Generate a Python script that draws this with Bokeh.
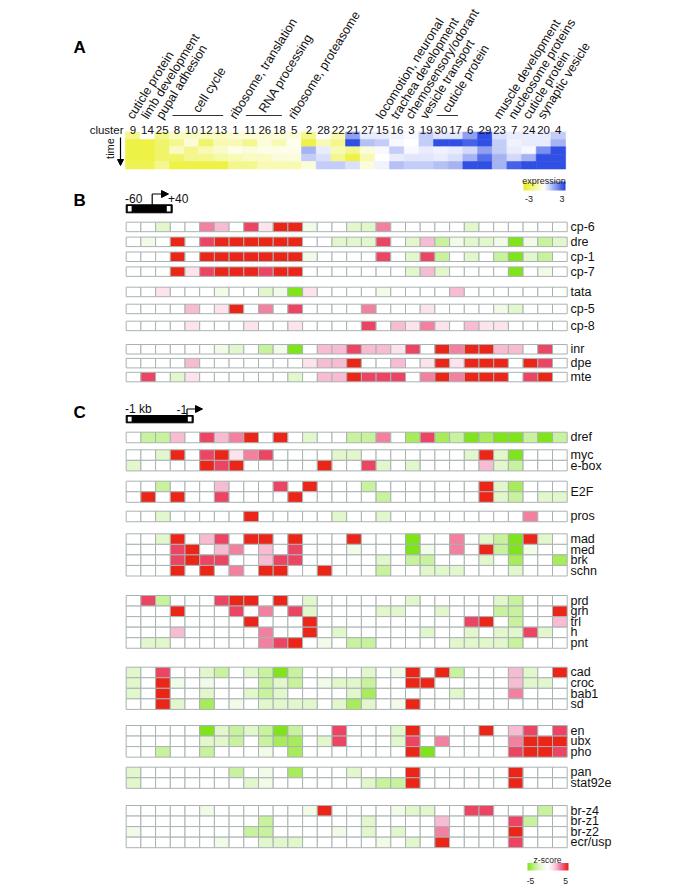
import numpy as np
from bokeh.plotting import figure
from bokeh.models import Range1d, ColumnDataSource, LinearColorMapper, Arrow, NormalHead
from bokeh.core.properties import value
from bokeh.embed import file_html
from bokeh.resources import INLINE

# ---------------- data ----------------
clusters = ["9", "14", "25", "8", "10", "12", "13", "1", "11", "26", "18", "5", "2", "28", "22",
            "21", "27", "15", "16", "3", "19", "30", "17", "6", "29", "23", "7", "24", "20", "4"]

# Panel A: expression per time point (rows, top -> bottom)
expr_t1 = [-1.5, 0, -1.5, -0.8, -0.8, -0.8, -0.8, -0.5, -0.5, -0.5, -0.5, -0.5, -1.5, 0, -1.0,
           1.5, 0.3, 0.3, 0.2, 0.1, 0.8, 0.4, 0.4, 1.5, 2.8, 0.5, 0.3, 0.3, 0.3, 0.8]
expr_t2 = [-2.5, -2.5, -2.0, -1.5, -0.5, -2.0, -1.0, -1.0, -1.5, -0.5, -1.0, -0.2, -2.5, -1.0, -1.5,
           2.8, 1.0, 0.8, 0.1, 0.0, 0.8, 2.8, 2.8, 2.5, 2.8, 0.8, 0.2, 0.3, 0.3, 1.2]
expr_t3 = [-2.5, -2.5, -2.0, -0.8, -1.5, -1.0, -0.7, -0.3, -0.5, -0.3, -0.3, -0.3, 1.2, 0.3, -1.0,
           -1.5, -0.5, 0.1, 0.8, 0.1, 0.3, 0.2, 0.3, 0.6, 1.5, 0.8, 0.3, 0.1, 1.8, 2.8]
expr_t4 = [-2.5, -2.5, -2.0, -2.0, -1.5, -1.5, -1.2, -1.0, -0.8, -0.8, -0.5, -0.5, 0.8, 0.5, -1.5,
           -2.5, -1.0, 0.0, 0.3, 0.4, 0.4, 0.3, 0.5, 1.2, 2.3, 1.2, 0.6, 1.2, 2.8, 2.8]
expr_t5 = [-2.3, -2.3, -1.5, -2.5, -2.5, -2.5, -2.5, -1.5, -1.5, -1.0, -1.0, -1.0, -0.5, 0.8, 0.8,
           0.5, -0.5, 0.2, 1.0, 0.8, 0.8, 1.0, 1.2, 2.8, 2.8, 1.2, 2.5, 2.8, 2.8, 2.8]

# functional annotations (single cluster / cluster groups)
single_labels = [("cuticle protein", "9"), ("limb development", "14"), ("pupal adhesion", "25"),
                 ("ribosome, translation", "1"), ("ribosome, proteasome", "5"),
                 ("locomotion, neuronal", "15"), ("trachea development", "16"),
                 ("chemosensory/odorant", "3"), ("vesicle transport", "19"),
                 ("muscle development", "23"), ("nucleosome proteins", "7"),
                 ("cuticle protein", "24"), ("synaptic vesicle", "20")]
group_labels = [("cell cycle", ["8", "10", "12", "13"]),
                ("RNA processing", ["11", "26", "18"]),
                ("cuticle protein", ["30", "17"])]

# Panel B: core promoter motif z-scores
b_names = ["cp-6", "dre", "cp-1", "cp-7", "tata", "cp-5", "cp-8", "inr", "dpe", "mte"]
cp6 = [0, 0, -2, 0, 0, 3, 2, 0, 4, 1, 5, 5, -1, 0, 0, -2, -2, 3, 0, 0, 0, 0, 0, -2, 0, 0, 0, 0, 0, 0]
dre = [0, -1, 0, 5, 0, 4, 5, 5, 5, 5, 5, 5, 0, 0, -2, -2, -2, 4, 0, -2, 2, -3, -1, -2, -2, -1, -5, -1, -3, -2]
cp1 = [0, 0, 0, 5, 0, 5, 5, 5, 5, 5, 5, 5, -1, 0, 0, 0, 0, 4, 0, -2, 4, -3, 0, -2, 0, -3, -5, -2, -3, 0]
cp7 = [0, 0, 0, 5, 1, 4, 5, 5, 5, 4, 5, 5, 0, 0, 0, 0, 0, 0, 0, -2, 2, -2, 0, 0, 0, 0, -5, 0, -1, 0]
tata = [0, 0, 1, 0, 0, 0, -1, 0, 0, -2, -1, -5, 1, 0, 0, 0, 0, -1, 0, 0, 0, 0, 2, 0, 0, 0, 0, 0, 0, 0]
cp5 = [0, 0, 0, 0, 2, 0, 1, 5, 0, 3, 0, 4, 0, 0, 0, 0, 3, 0, 0, 0, 1, 0, 0, 0, 0, -1, -2, 0, 0, 0]
cp8 = [0, 0, 0, 0, 1, 0, 0, 0, 1, 0, 0, 1, 0, 0, 0, 0, 4, 0, 2, 1, 3, 1, 0, 2, 1, 1, 0, 0, 0, 0]
inr = [0, 0, 0, 0, 0, 0, -1, -2, 0, -3, -1, -5, 0, 2, 2, 4, 2, 2, 1, 4, 0, 5, 3, 5, 5, 2, 2, 0, 4, 0]
dpe = [0, 0, 0, 0, 2, 0, 0, 0, 0, 0, 0, 0, 1, 2, 2, 5, 0, 0, 2, 0, 1, 5, 1, 5, 5, 5, 0, 5, 4, 0]
mte = [0, 4, 0, -2, 1, 0, 0, 0, 0, 0, 0, -2, 0, 2, 2, 5, 4, 4, 4, 0, 3, 5, 3, 5, 5, 5, 0, 4, 5, 0]
b_rows = [cp6, dre, cp1, cp7, tata, cp5, cp8, inr, dpe, mte]

# Panel C: upstream (-1kb) motif z-scores
c_names = ["dref", "myc", "e-box", "E2F_a", "E2F_b", "pros", "mad", "med", "brk", "schn",
           "prd", "grh", "trl", "h", "pnt", "cad", "croc", "bab1", "sd", "en", "ubx", "pho",
           "pan", "stat92e", "br-z4", "br-z1", "br-z2", "ecr/usp"]
dref = [0, -3, -3, 2, 0, 4, 2, 3, 5, 0, 5, 0, -2, 0, 0, -3, -3, 3, 0, -4, 4, -4, -3, -5, -4, -5, -5, -3, -5, -3]
myc = [0, 0, -2, 5, 0, 4, 5, 1, 3, 4, 0, 0, 0, 0, -2, -2, 0, 0, 0, 0, 0, 0, 0, -2, 5, -2, -5, 0, 0, 0]
ebox = [-2, 0, 0, 0, 0, 5, 4, 5, 0, 0, 0, 0, 0, 5, 0, 0, 4, -2, 0, -2, 0, 0, 0, 0, 2, -2, -3, 0, 0, 0]
e2f_a = [0, 0, -3, 0, 0, 0, 2, 0, 0, 0, 4, 0, 5, 0, 0, 0, -3, 0, 0, 0, 0, 0, 0, 0, 5, -2, -4, 0, 0, 0]
e2f_b = [0, 5, 0, 5, 0, 0, 4, 0, 0, 0, 0, 5, 0, 0, 0, 0, 0, -3, 0, 0, 0, 0, 0, 0, 5, -2, -3, 0, -2, -2]
pros = [0, 0, -2, 0, 0, 0, 0, 0, 5, 0, 0, 0, 0, 0, -2, 0, 0, -2, 0, 0, 0, 0, 0, 0, 0, 0, 0, 3, 0, 0]
mad = [0, 0, -2, 5, 0, 2, 4, 0, 5, 5, 0, 5, 0, 0, 0, 5, 0, 0, 0, -5, 0, 0, 3, 0, -2, -3, -5, 5, -2, 0]
med = [0, 0, 0, 4, 5, 0, 2, 3, 0, 2, 0, 4, 0, 0, 0, -1, 0, 0, 0, -5, -1, 0, 3, 0, 5, -3, -5, -1, 0, 0]
brk = [0, 0, 0, 4, 5, 4, 4, 0, 0, 2, 4, 4, 0, 0, 0, 0, 0, -2, 0, -3, -3, 0, 0, 0, -2, 0, -4, 0, 0, -4]
schn = [0, 0, 0, 5, 0, 5, 0, 3, 0, 5, 5, 0, 0, 5, 0, 0, 0, -3, 0, 0, -2, -2, -2, 0, 0, 0, -2, 0, 0, 0]
prd = [0, 4, -3, 0, 0, 0, 4, 5, 5, 0, 5, 0, -2, 0, 0, 0, 0, 0, 0, -2, 0, 0, 0, 0, 0, -2, -3, 0, 0, 0]
grh = [0, 0, 0, 5, 0, 0, 0, 4, 0, 3, 0, 4, -2, 0, 0, 0, 0, -2, -2, 0, 0, -2, 0, 0, 0, -3, -3, 0, 0, 5]
trl = [0, 0, 0, 0, 0, 0, 0, 0, 5, 0, 0, 0, 5, 0, 0, 0, 0, 0, 0, 0, 0, 0, 0, 4, 5, 0, -3, 0, 0, 2]
h_ = [0, 0, 0, 2, 0, 0, 0, 0, 0, 3, 0, 0, 5, 0, -2, 0, 0, 0, 0, 0, -2, 0, 0, -2, 0, -2, -2, 4, -2, 0]
pnt = [0, -2, -2, 0, 0, 0, 0, 0, 0, 3, 4, 5, 0, -1, 0, -3, -3, 0, 0, 0, 0, 0, -2, -2, -2, -2, -3, 0, 0, 0]
cad = [-2, 0, 4, 0, 0, -2, -3, 0, -2, -3, -5, -3, 0, 0, 0, 0, -2, 0, -1, 5, 0, 5, -3, 0, 0, 0, 2, -2, 0, 5]
croc = [-2, 0, 5, -1, 0, -1, 0, 0, 0, -3, -2, -3, 0, -1, -2, -2, -3, 0, 0, 5, 5, 0, 0, 0, 0, 0, 2, -2, -2, 0]
bab1 = [-2, 0, 5, 0, 0, -2, 0, 0, -2, -3, -2, 0, 0, 0, 0, -2, -4, 0, 0, 0, 0, 0, -2, 0, 0, 0, 3, 0, 0, 0]
sd = [0, 0, 5, -2, 0, -4, 0, -1, 0, -2, -2, -2, -2, 0, -2, -4, -2, 0, -1, 5, 0, 0, 0, 0, 0, 0, 0, 0, 0, 0]
en = [0, 0, 0, 0, 0, -5, -2, -3, -2, -3, -5, -3, 0, 0, 4, 0, 0, 0, -2, 5, 0, 0, 0, 0, 5, 0, 2, 4, 0, 4]
ubx = [0, 0, 0, 0, 0, -2, -2, -3, 0, -3, -4, -4, 0, -2, 4, 0, 0, 0, -2, 4, 0, 3, 0, 0, 0, 0, 3, 5, 5, 5]
pho = [0, 0, -3, 0, 0, -3, 0, 0, 0, -1, 0, -4, 0, 0, 0, 0, 0, 0, 0, 5, -5, 0, 0, 0, 0, 0, 4, 5, 5, 4]
pan = [-2, 0, 0, 0, 0, 0, 0, -3, 0, -1, 0, -4, 0, 0, 0, -2, 0, 0, 0, 5, 0, 0, 0, 0, 0, 0, 5, 0, 0, 0]
stat92e = [-2, 0, 0, 0, 0, 0, 0, 0, -2, -1, 0, 0, 0, 0, 0, 0, -2, -3, -3, 5, 0, 0, 0, 0, 0, 0, 5, 0, 0, 0]
brz4 = [0, 0, 0, 0, 0, -1, 0, 0, 0, 0, 0, 0, -1, 5, 0, 0, 0, 0, -1, -2, -2, 0, 0, 4, 4, 0, 0, 0, -3, 0]
brz1 = [0, 0, 0, 0, 0, 0, 0, 0, 0, -3, 0, 0, 0, 0, 0, 0, -2, 0, 0, 0, 0, 2, 0, 0, 0, 0, 4, -3, 0, 0]
brz2 = [-1, 0, 0, 0, 0, 0, 0, 0, -3, -3, 0, 0, 0, 0, -1, 0, -2, 0, -2, 0, 0, 3, 0, 0, 0, 0, 5, 0, 0, 0]
ecrusp = [0, 0, 0, 0, 0, 0, -1, 0, 0, -2, -2, -2, 0, 0, 0, 0, 0, -1, 0, -2, 0, 5, 0, 0, 0, 0, 4, 0, 0, 0]
c_rows = [dref, myc, ebox, e2f_a, e2f_b, pros, mad, med, brk, schn, prd, grh, trl, h_, pnt,
          cad, croc, bab1, sd, en, ubx, pho, pan, stat92e, brz4, brz1, brz2, ecrusp]

# ---------------- layout (pixel positions of the page) ----------------
W, H = 685, 886
FONT = value("Liberation Sans")
p = figure(width=W, height=H, x_range=Range1d(0, W), y_range=Range1d(H, 0),
           output_backend="svg", toolbar_location=None, min_border=0,
           x_axis_location=None, y_axis_location=None)
p.xgrid.visible = False
p.ygrid.visible = False
p.outline_line_color = None

AX0, ACW, ATOP, ARH = 125.0, 14.67, 131.5, 7.4     # panel A heatmap geometry
GX0, GCW = 125.7, 14.7                             # grid geometry B / C
ncol = len(clusters)
col_of = {c: i for i, c in enumerate(clusters)}

def lerp_palette(anchors, n):
    cols = [tuple(int(a[i:i + 2], 16) for i in (1, 3, 5)) for a in anchors]
    pos = np.linspace(0, 1, len(cols))
    out = []
    for t in np.linspace(0, 1, n):
        rgb = [int(round(np.interp(t, pos, [c[k] for c in cols]))) for k in range(3)]
        out.append("#%02x%02x%02x" % tuple(rgb))
    return out

apal = lerp_palette(["#e9ef1e", "#ffffff", "#2142e2"], 121)
amap = LinearColorMapper(palette=apal, low=-3, high=3)
zpal = lerp_palette(["#7fe51a", "#a8ec5c", "#c9f29e", "#e3f7cd", "#f2fbe8", "#ffffff",
                     "#fce3ec", "#f8bcd2", "#f2809f", "#ec4563", "#ec2519"], 101)
zmap = LinearColorMapper(palette=zpal, low=-5, high=5)

# ---- panel A heatmap ----
ax, ay, av = [], [], []
for r, row in enumerate([expr_t1, expr_t2, expr_t3, expr_t4, expr_t5]):
    for i, v in enumerate(row):
        ax.append(AX0 + (i + 0.5) * ACW)
        ay.append(ATOP + (r + 0.5) * ARH)
        av.append(v)
asrc = ColumnDataSource(dict(x=ax, y=ay, v=av))
p.rect(x="x", y="y", width=ACW, height=ARH, source=asrc,
       fill_color={"field": "v", "transform": amap},
       line_color={"field": "v", "transform": amap}, line_width=0.6)

# cluster numbers
p.text(x=[AX0 + (i + 0.5) * ACW for i in range(ncol)], y=[129] * ncol, text=clusters,
       text_font=FONT, text_font_size="11.5px", text_align="center",
       text_baseline="alphabetic", text_color="#111111")
p.text(x=[123], y=[129], text=["cluster"], text_font=FONT, text_font_size="11.5px",
       text_align="right", text_baseline="alphabetic", text_color="#111111")

# rotated annotations
lx = [AX0 + (col_of[c] + 0.5) * ACW - 3 for _, c in single_labels]
p.text(x=lx, y=[117.5] * len(lx), text=[t for t, _ in single_labels], angle=58,
       angle_units="deg", text_font=FONT, text_font_size="12.5px", text_align="left",
       text_baseline="alphabetic", text_color="#111111")
gx, gt = [], []
for t, cl in group_labels:
    i0, i1 = col_of[cl[0]], col_of[cl[-1]]
    p.line(x=[AX0 + i0 * ACW + 3, AX0 + (i1 + 1) * ACW - 5], y=[115, 115],
           line_color="#333333", line_width=1)
    gx.append(AX0 + (i0 + i1 + 1) / 2 * ACW - 3)
    gt.append(t)
p.text(x=gx, y=[111] * len(gx), text=gt, angle=58, angle_units="deg", text_font=FONT,
       text_font_size="12.5px", text_align="left", text_baseline="alphabetic",
       text_color="#111111")

# time label + arrow
p.text(x=[109], y=[148], text=["time"], angle=90, angle_units="deg", text_font=FONT,
       text_font_size="11px", text_align="center", text_baseline="middle", text_color="#111111")
p.add_layout(Arrow(x_start=120, y_start=137, x_end=120, y_end=165, line_width=1.2,
                   end=NormalHead(size=6, fill_color="black", line_color="black")))

# expression legend
p.image(image=[np.linspace(-3, 3, 120).reshape(1, -1)], x=523, y=181, dw=42, dh=9,
        color_mapper=amap)
p.text(x=[543.5], y=[180], text=["expression"], text_font=FONT, text_font_size="9px",
       text_align="center", text_baseline="alphabetic", text_color="#222222")
p.text(x=[528.5, 561.5], y=[198, 198], text=["-3", "3"], text_font=FONT, text_font_size="9px",
       text_align="center", text_baseline="alphabetic", text_color="#222222")

# section letters
p.text(x=[73, 73, 73], y=[47, 200, 412], text=["A", "B", "C"], text_font=FONT,
       text_font_size="17px", text_font_style="bold", text_align="left",
       text_baseline="alphabetic", text_color="#000000")

# ---- promoter schematics ----
def schematic(x0, x1, ytop, ybot, arrow_x, arrow_y, arrow_end, texts):
    p.quad(left=[x0], right=[x1], top=[ytop], bottom=[ybot], fill_color="black",
           line_color="black")
    p.quad(left=[x0 + 1.6, x1 - 5.4], right=[x0 + 5.4, x1 - 1.6],
           top=[ytop + 1.3] * 2, bottom=[ybot - 1.3] * 2, fill_color="white", line_color=None)
    p.line(x=[arrow_x, arrow_x], y=[ytop, arrow_y], line_color="black", line_width=1.2)
    p.add_layout(Arrow(x_start=arrow_x, y_start=arrow_y, x_end=arrow_end, y_end=arrow_y,
                       line_width=1.2, end=NormalHead(size=7, fill_color="black",
                                                      line_color="black")))
    p.text(x=[t[1] for t in texts], y=[t[2] for t in texts], text=[t[0] for t in texts],
           text_font=FONT, text_font_size="12px", text_align="left",
           text_baseline="alphabetic", text_color="#111111")

schematic(125.7, 171.7, 204.3, 212.3, 151.7, 193.5, 168,
          [("-60", 124.5, 198), ("+40", 167.5, 198)])
schematic(125.7, 192.7, 415.0, 422.3, 186.5, 408.5, 202,
          [("-1 kb", 124.5, 408.5), ("-1", 176, 408.5)])

# ---- grids B and C ----
def add_grid(rows, tops, h):
    xs, ys, vs = [], [], []
    for row, top in zip(rows, tops):
        for i, v in enumerate(row):
            xs.append(GX0 + (i + 0.5) * GCW)
            ys.append(top + h / 2)
            vs.append(v)
    src = ColumnDataSource(dict(x=xs, y=ys, v=vs))
    p.rect(x="x", y="y", width=GCW, height=h, source=src,
           fill_color={"field": "v", "transform": zmap},
           line_color="#a9b2b2", line_width=1)

BH = 9.5
b_tops = [221.7, 236.6, 251.5, 266.4, 286.7, 303.7, 320.7, 344.0, 357.9, 371.8]
add_grid(b_rows, b_tops, BH)

CH = 10.55
c_group_starts = [431.7, 449.3, 480.7, 510.7, 533.3, 595.0, 666.7, 725.0, 766.7, 805.0]
c_group_sizes = [1, 2, 2, 1, 4, 5, 4, 3, 2, 4]
c_tops = []
for s, n in zip(c_group_starts, c_group_sizes):
    c_tops += [s + k * CH for k in range(n)]
add_grid(c_rows, c_tops, CH)

# row labels
lab_y = [t + BH / 2 for t in b_tops]
p.text(x=[570] * len(b_names), y=lab_y, text=b_names, text_font=FONT, text_font_size="12.5px",
       text_align="left", text_baseline="middle", text_color="#111111")
c_lab, c_lab_y = [], []
for nm, t in zip(c_names, c_tops):
    if nm == "E2F_a":
        continue
    if nm == "E2F_b":
        c_lab.append("E2F")
        c_lab_y.append(t)
        continue
    c_lab.append(nm)
    c_lab_y.append(t + CH / 2)
p.text(x=[570] * len(c_lab), y=c_lab_y, text=c_lab, text_font=FONT, text_font_size="12.5px",
       text_align="left", text_baseline="middle", text_color="#111111")

# z-score legend
p.image(image=[np.linspace(-5, 5, 120).reshape(1, -1)], x=527, y=862.5, dw=41, dh=7.5,
        color_mapper=zmap)
p.text(x=[547], y=[859.5], text=["z-score"], text_font=FONT, text_font_size="8.5px",
       text_align="center", text_baseline="alphabetic", text_color="#222222")
p.text(x=[530, 565], y=[880, 880], text=["-5", "5"], text_font=FONT, text_font_size="8.5px",
       text_align="center", text_baseline="alphabetic", text_color="#222222")

open("out.html", "w").write(file_html(p, INLINE))
